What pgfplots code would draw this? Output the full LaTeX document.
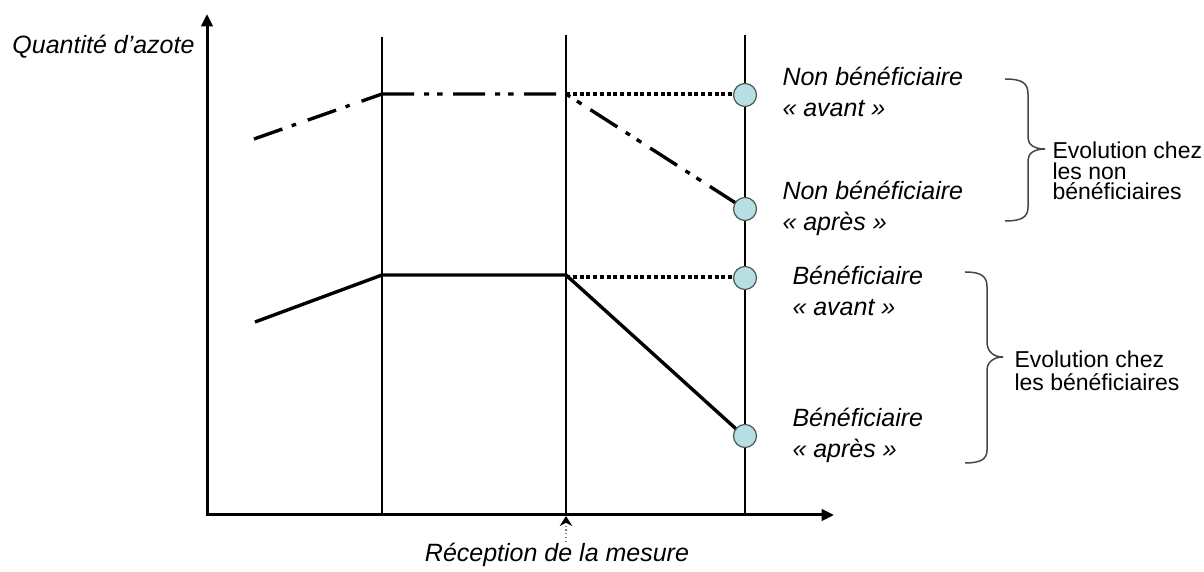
\documentclass[border=0pt]{standalone}
\usepackage{pgfplots}
\pgfplotsset{compat=1.18}
\usepackage{fontspec}
\setmainfont{Liberation Sans}
\usetikzlibrary{arrows.meta}
\definecolor{circfill}{RGB}{183,222,226}
\definecolor{circedge}{RGB}{80,90,92}
\definecolor{bracecol}{RGB}{70,70,70}
\begin{document}
\begin{tikzpicture}
\begin{axis}[
  hide axis, scale only axis, clip=false,
  width=481.6pt, height=228.8pt,
  xmin=0, xmax=1204, ymin=0, ymax=572, y dir=reverse,
]
\path (axis cs:0,0) rectangle (axis cs:1204,572);
% vertical reference lines
\addplot[black, line width=0.45pt] coordinates {(382,37) (382,515)};
\addplot[black, line width=0.45pt] coordinates {(566,35) (566,515)};
\addplot[black, line width=0.45pt] coordinates {(745,35) (745,515)};
% non-beneficiaries
\addplot[black, line width=1.35pt, dash pattern=on 12pt off 4pt on 1.8pt off 5pt] coordinates {(254,139) (382,94)};
\addplot[black, line width=1.35pt, dash pattern=on 12.8pt off 4pt on 2pt off 3.2pt on 2.2pt off 4.2pt] coordinates {(382,94) (566,94) (745,209)};
\addplot[black, line width=1.6pt, dash pattern=on 1.6pt off 1.1pt] coordinates {(566,94) (740,94)};
% beneficiaries
\addplot[black, line width=1.35pt] coordinates {(255,322) (382,275) (566,275) (745,437)};
\addplot[black, line width=1.6pt, dash pattern=on 1.6pt off 1.1pt] coordinates {(566,277) (740,277)};
% end points
\addplot[only marks, mark=*, mark size=4.6pt, mark options={fill=circfill, draw=circedge, line width=0.5pt}] coordinates {(745,95) (745,209) (745,278) (745,436)};
% axes
\draw[black, line width=1.2pt, -{Triangle[length=5pt,width=4.6pt]}] (axis cs:207,515) -- (axis cs:207,14);
\draw[black, line width=1.2pt, -{Triangle[length=5pt,width=4.6pt]}] (axis cs:205.5,515) -- (axis cs:834,515);
% axis titles
\node[anchor=east, inner sep=0pt, font=\fontsize{10}{12}\selectfont\itshape] at (axis cs:195,47) {Quantité d’azote};
\node[inner sep=0pt, font=\fontsize{10}{12}\selectfont\itshape] at (axis cs:557,555) {Réception de la mesure};
\draw[gray, line width=0.5pt, densely dotted, -{Stealth[black,length=4pt,width=5pt]}] (axis cs:566,542) -- (axis cs:566,516);
% labels
\node[anchor=west, inner sep=0pt, align=left, font=\fontsize{10}{12.4}\selectfont\itshape] at (axis cs:782,92) {Non bénéficiaire\\« avant »};
\node[anchor=west, inner sep=0pt, align=left, font=\fontsize{10}{12.4}\selectfont\itshape] at (axis cs:782,208) {Non bénéficiaire\\« après »};
\node[anchor=west, inner sep=0pt, align=left, font=\fontsize{10}{12.4}\selectfont\itshape] at (axis cs:792,291) {Bénéficiaire\\« avant »};
\node[anchor=west, inner sep=0pt, align=left, font=\fontsize{10}{12.4}\selectfont\itshape] at (axis cs:792,435) {Bénéficiaire\\« après »};
% braces
\draw[bracecol, line width=0.6pt] (axis cs:1005,79) .. controls (axis cs:1022,79) and (axis cs:1028,83) .. (axis cs:1028,94) -- (axis cs:1028,138) .. controls (axis cs:1028,145) and (axis cs:1035,149) .. (axis cs:1045,149) .. controls (axis cs:1035,149) and (axis cs:1028,153) .. (axis cs:1028,160) -- (axis cs:1028,207) .. controls (axis cs:1028,217) and (axis cs:1022,221) .. (axis cs:1005,221);
\draw[bracecol, line width=0.6pt] (axis cs:965,272) .. controls (axis cs:981,272) and (axis cs:987,276) .. (axis cs:987,287) -- (axis cs:987,342) .. controls (axis cs:987,352) and (axis cs:994,357) .. (axis cs:1003,357) .. controls (axis cs:994,357) and (axis cs:987,362) .. (axis cs:987,370) -- (axis cs:987,450) .. controls (axis cs:987,459) and (axis cs:981,463) .. (axis cs:965,463);
\node[anchor=west, inner sep=0pt, align=left, font=\fontsize{9.2}{8.2}\selectfont] at (axis cs:1052,171) {Evolution chez\\les non\\bénéficiaires};
\node[anchor=west, inner sep=0pt, align=left, font=\fontsize{9.2}{9}\selectfont] at (axis cs:1014,371) {Evolution chez\\les bénéficiaires};
\end{axis}
\pgfresetboundingbox
\path (current axis.south west) rectangle (current axis.north east);
\end{tikzpicture}
\end{document}
